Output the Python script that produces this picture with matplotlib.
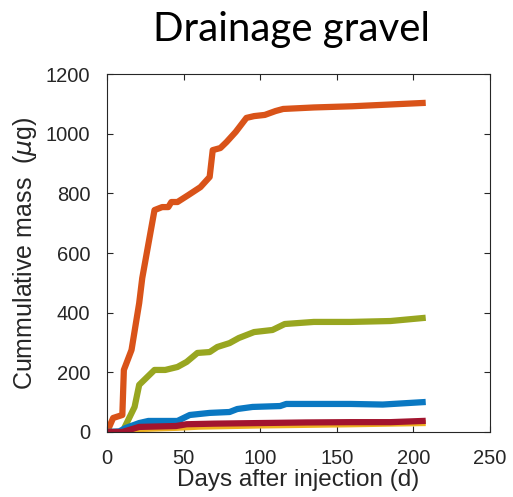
import matplotlib.pyplot as plt

# Days after injection and cumulative mass (ug)
orange_d = [0, 4, 10, 11, 16, 21, 23, 31, 36, 40, 42, 46, 53, 61, 67, 69, 74, 78, 84, 91, 96, 103, 110, 115, 135, 160, 185, 206]
orange_m = [0, 47, 57, 208, 275, 432, 516, 744, 754, 754, 771, 771, 794, 821, 855, 945, 952, 972, 1006, 1053, 1059, 1063, 1076, 1083, 1088, 1092, 1098, 1103]

green_d = [0, 10, 18, 21, 31, 38, 46, 52, 59, 67, 72, 80, 86, 96, 108, 116, 135, 159, 185, 206]
green_m = [0, 0, 84, 158, 208, 208, 218, 235, 265, 268, 285, 298, 315, 335, 342, 362, 369, 369, 372, 382]

blue_d = [0, 8, 12, 21, 27, 46, 54, 67, 80, 85, 95, 113, 117, 159, 180, 206]
blue_m = [0, 2, 13, 30, 37, 37, 57, 64, 67, 77, 84, 87, 94, 94, 92, 100]

yellow_d = [0, 10, 21, 45, 60, 100, 159, 206]
yellow_m = [-3, -3, 10, 14, 18, 22, 26, 30]

red_d = [0, 10, 21, 45, 52, 70, 100, 130, 159, 185, 206]
red_m = [0, 0, 17, 20, 26, 28, 30, 32, 33, 33, 37]

plt.rcParams['font.family'] = ['Liberation Sans', 'DejaVu Sans']

fig = plt.figure(figsize=(5.13, 4.97), dpi=100)
ax = fig.add_axes([0.2086, 0.1308, 0.7466, 0.7202])

lw = 4.5
ax.plot(orange_d, orange_m, color='#D95319', lw=lw)
ax.plot(green_d, green_m, color='#98A620', lw=lw)
ax.plot(blue_d, blue_m, color='#0A78C2', lw=lw)
ax.plot(yellow_d, yellow_m, color='#EDB120', lw=lw)
ax.plot(red_d, red_m, color='#A2142F', lw=lw)

ax.set_xlim(0, 250)
ax.set_ylim(0, 1200)
ax.set_xticks([0, 50, 100, 150, 200, 250])
ax.set_yticks([0, 200, 400, 600, 800, 1000, 1200])
ax.tick_params(direction='in', top=True, right=True, length=4, width=0.8,
               colors='#262626', labelsize=14.5)
ax.tick_params(axis='x', pad=12)
ax.tick_params(axis='y', pad=12)
for s in ax.spines.values():
    s.set_color('#262626')
    s.set_linewidth(0.8)

ax.set_xlabel('Days after injection (d)', fontsize=17.5, color='#262626', labelpad=1)
ax.set_ylabel(r'Cummulative mass  ($\mu$g)', fontsize=18, color='#262626', labelpad=5)

fig.text(0.568, 0.94, 'Drainage gravel', fontsize=29, family=['Lato', 'DejaVu Sans'],
         ha='center', va='center')

fig.savefig('out.png', dpi=100)
